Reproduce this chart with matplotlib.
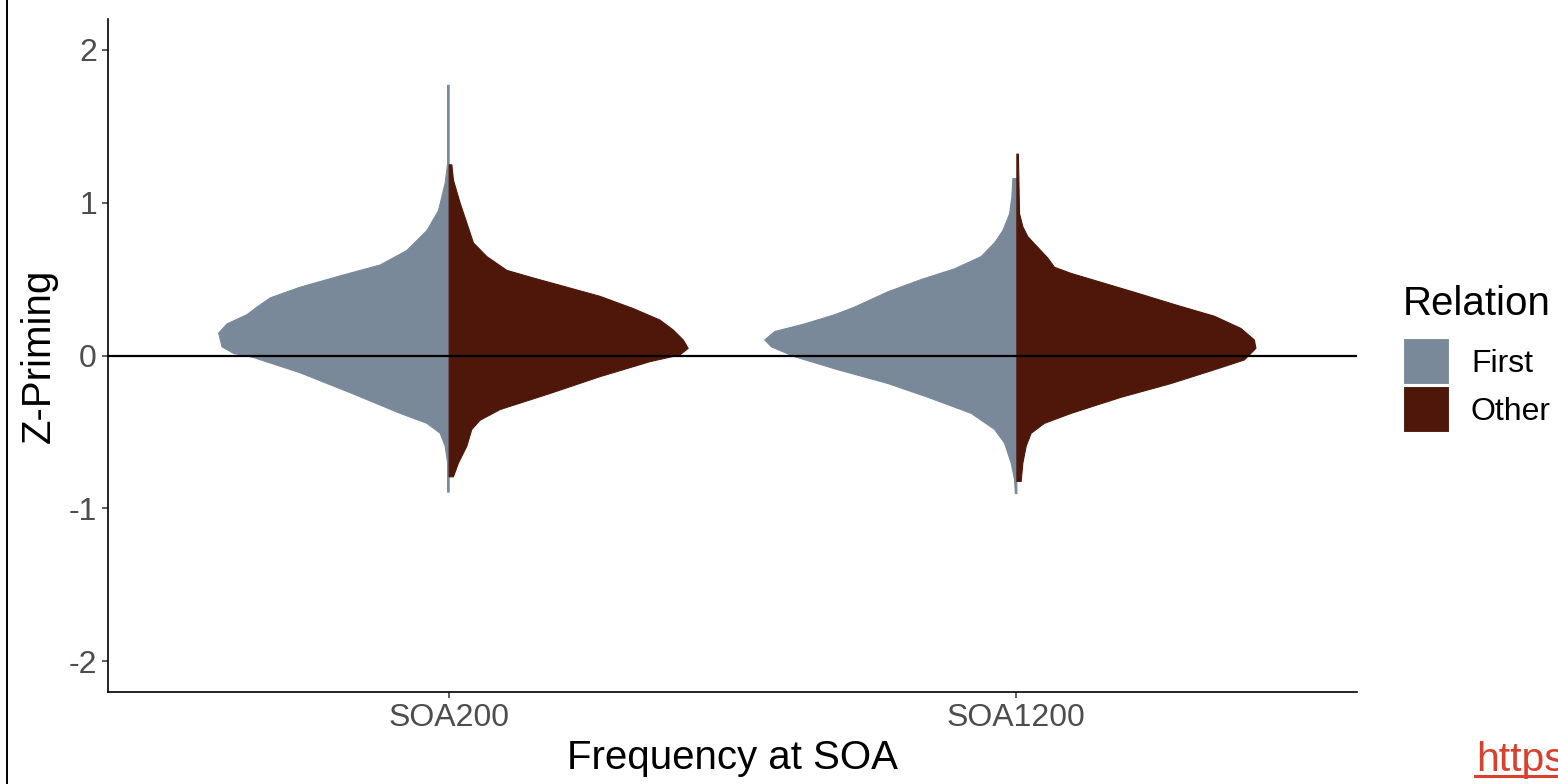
import numpy as np
import matplotlib.pyplot as plt
from matplotlib.patches import Rectangle
from matplotlib.lines import Line2D

plt.rcParams['font.family'] = ['Liberation Sans', 'DejaVu Sans']

categories = ['SOA200', 'SOA1200']
relations = ['First', 'Other']
colors = {'First': '#7A8999', 'Other': '#4E1709'}

# density profiles (y value, relative density)
soa200_first_y = [1.77, 1.26, 1.13, 0.95, 0.82, 0.69, 0.595, 0.53, 0.45, 0.38, 0.32, 0.27, 0.21, 0.15,
                  0.06, 0.017, -0.01, -0.11, -0.24, -0.375, -0.44, -0.505, -0.59, -0.70, -0.89]
soa200_first_d = [1.5, 1.5, 4, 10.7, 22.3, 42.3, 69, 105.7, 149, 179, 192.3, 202.3, 222.3, 230.7,
                  227.3, 215.7, 195.7, 149, 99, 49, 22.3, 9, 4, 1.5, 1.5]

soa200_other_y = [1.25, 1.15, 1.0, 0.87, 0.74, 0.65, 0.56, 0.51, 0.45, 0.39, 0.31, 0.235, 0.17, 0.105,
                  0.05, 0.007, -0.037, -0.135, -0.245, -0.35, -0.42, -0.48, -0.59, -0.70, -0.79]
soa200_other_d = [2.7, 4.3, 11, 17.7, 24.3, 37.7, 57.7, 84.3, 117.7, 151, 184.3, 211, 224.3, 234.3,
                  239.3, 231, 201, 151, 101, 51, 31, 22.7, 17.7, 9.3, 4.3]

soa1200_first_y = [1.16, 1.04, 0.93, 0.82, 0.74, 0.65, 0.57, 0.50, 0.42, 0.32, 0.27, 0.21, 0.16, 0.105,
                   0.06, -0.005, -0.09, -0.18, -0.27, -0.375, -0.48, -0.57, -0.70, -0.81, -0.90]
soa1200_first_d = [4, 5, 7.3, 14, 22.3, 35.7, 62.3, 95.7, 129, 162.3, 182.3, 212.3, 242.3, 252.3,
                   245.7, 222.3, 179, 129, 89, 45.7, 22.3, 12.3, 5.7, 2.3, 1.5]

soa1200_other_y = [1.32, 0.93, 0.845, 0.78, 0.71, 0.64, 0.58, 0.54, 0.475, 0.41, 0.33, 0.26, 0.18, 0.105,
                   0.05, -0.026, -0.09, -0.18, -0.27, -0.375, -0.44, -0.505, -0.59, -0.70, -0.82]
soa1200_other_d = [1.5, 2.7, 6, 11, 21, 31, 37.7, 54.3, 87.7, 121, 161, 197.7, 224.3, 237.7,
                   239.3, 227.7, 197.7, 154.3, 104.3, 54.3, 27.7, 14.3, 9.3, 6, 4.3]

profiles = {
    ('SOA200', 'First'): (soa200_first_y, soa200_first_d),
    ('SOA200', 'Other'): (soa200_other_y, soa200_other_d),
    ('SOA1200', 'First'): (soa1200_first_y, soa1200_first_d),
    ('SOA1200', 'Other'): (soa1200_other_y, soa1200_other_d),
}

dmax = max(max(d) for _, d in profiles.values())
half_width = 0.444

fig = plt.figure(figsize=(15.58, 7.84), dpi=100)
ax = fig.add_axes([108 / 1558, 1 - 692 / 784, (1357 - 108) / 1558, (692 - 19) / 784])

for i, cat in enumerate(categories):
    pos = i + 1
    for rel in relations:
        y, d = profiles[(cat, rel)]
        y = np.array(y)
        w = np.array(d) / dmax * half_width
        if rel == 'First':
            ax.fill_betweenx(y, pos - w, pos, facecolor=colors[rel], edgecolor=colors[rel],
                             lw=0.8, joinstyle='round', zorder=2)
        else:
            ax.fill_betweenx(y, pos, pos + w, facecolor=colors[rel], edgecolor=colors[rel],
                             lw=0.8, joinstyle='round', zorder=3)

ax.axhline(0, color='black', lw=1.6, zorder=4)

ax.set_xlim(0.4, 2.6)
ax.set_ylim(-2.2, 2.2)
ax.set_xticks([1, 2])
ax.set_xticklabels(categories)
ax.set_yticks([-2, -1, 0, 1, 2])
ax.set_yticklabels(['-2', '-1', '0', '1', '2'])

for s in ['top', 'right']:
    ax.spines[s].set_visible(False)
for s in ['left', 'bottom']:
    ax.spines[s].set_linewidth(1.2)
    ax.spines[s].set_color('black')
ax.tick_params(length=4, width=1.1, color='#333333', labelcolor='#4D4D4D', labelsize=23, pad=4)

ax.set_xlabel('Frequency at SOA', fontsize=29, labelpad=4)
ax.set_ylabel('Z-Priming', fontsize=29, labelpad=8)

# legend drawn by hand to match the ggplot guide layout
W, H = 1558, 784
fig.text(1403 / W, 1 - 315 / H, 'Relation', fontsize=29, va='baseline', ha='left')
key_top = 338
for j, rel in enumerate(relations):
    top = key_top + j * 48
    fig.add_artist(Rectangle((1403 / W, 1 - (top + 46) / H), 46 / W, 46 / H,
                             facecolor=colors[rel], edgecolor='white', lw=0.8,
                             transform=fig.transFigure))
    fig.text(1471 / W, 1 - (top + 23) / H, rel, fontsize=23, va='center_baseline', ha='left')

# frame line at left edge and cut-off link at bottom right
fig.add_artist(Line2D([7 / W, 7 / W], [0, 1], color='black', lw=1.4))
fig.text(1476 / W, 1 - 771 / H, 'https', color='#D9412F', fontsize=29.5, va='baseline')
fig.add_artist(Line2D([1475 / W, 1.0], [1 - 776 / H] * 2, color='#D9412F', lw=2.2))

fig.savefig('out.png', dpi=100)
